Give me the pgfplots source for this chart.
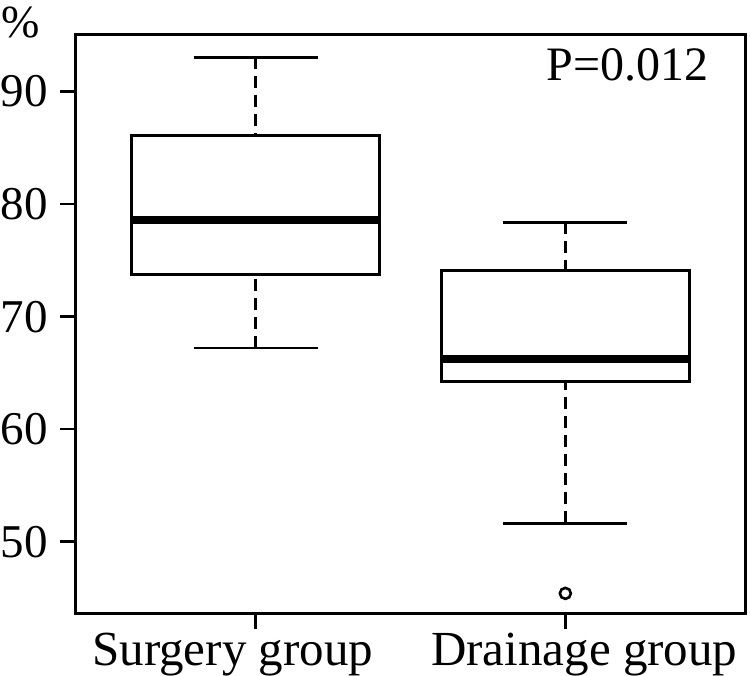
\documentclass[border=0pt]{standalone}
\usepackage{fontspec}
\setmainfont{Liberation Serif}
\usepackage{pgfplots}
\pgfplotsset{compat=1.18}
\usepgfplotslibrary{statistics}

\begin{document}
\begin{tikzpicture}
\begin{axis}[
  name=ax,
  scale only axis,
  width=669pt, height=578.3pt,
  xmin=0.42, xmax=2.58,
  ymin=43.63, ymax=95.03,
  clip=false,
  axis line style={line width=3pt},
  every tick/.style={line width=2.6pt, black},
  tick align=outside,
  tick pos=left,
  major tick length=16pt,
  xtick={1,2},
  xticklabels={},
  % group names sit a little off their tick marks
  extra x ticks={0.926,2.061},
  extra x tick labels={Surgery group, Drainage group},
  extra x tick style={major tick length=0pt,
    xticklabel style={inner sep=0pt, anchor=north, yshift=-20pt}},
  ytick={50,60,70,80,90},
  /pgf/number format/assume math mode=true,
  yticklabel style={font=\fontsize{47}{47}\selectfont,
    inner sep=0pt, anchor=east, xshift=-12pt},
  xticklabel style={font=\fontsize{49}{49}\selectfont},
  boxplot/draw direction=y,
  boxplot/box extend=0.8,
  boxplot/whisker extend=0.4,
  boxplot/every box/.style={draw=black, line width=3pt, fill=none},
  boxplot/every median/.style={line width=8pt},
  % dashed stem from the whisker end to the box, solid cap across it
  boxplot/draw/lower whisker/.code={%
    \draw[line width=2.6pt, dash pattern=on 12pt off 7pt]
      (boxplot box cs:\pgfplotsboxplotvalue{lower whisker},0.5) --
      (boxplot box cs:\pgfplotsboxplotvalue{lower quartile},0.5);
    \draw[line width=2.8pt, solid]
      (boxplot whisker cs:\pgfplotsboxplotvalue{lower whisker},0) --
      (boxplot whisker cs:\pgfplotsboxplotvalue{lower whisker},1);
  },
  boxplot/draw/upper whisker/.code={%
    \draw[line width=2.6pt, dash pattern=on 12pt off 7pt]
      (boxplot box cs:\pgfplotsboxplotvalue{upper whisker},0.5) --
      (boxplot box cs:\pgfplotsboxplotvalue{upper quartile},0.5);
    \draw[line width=2.8pt, solid]
      (boxplot whisker cs:\pgfplotsboxplotvalue{upper whisker},0) --
      (boxplot whisker cs:\pgfplotsboxplotvalue{upper whisker},1);
  },
]
% Surgery group
\addplot[black, line width=3pt, mark=o, mark size=5.5pt,
  mark options={solid, line width=2.6pt},
  boxplot prepared={
    draw position=1,
    lower whisker=67.21, lower quartile=73.70, median=78.59,
    upper quartile=86.14, upper whisker=93.05}]
  coordinates {};
% Drainage group, with one outlier
\addplot[black, line width=3pt, mark=o, mark size=5.5pt,
  mark options={solid, line width=2.6pt},
  boxplot prepared={
    draw position=2,
    lower whisker=51.63, lower quartile=64.21, median=66.23,
    upper quartile=74.08, upper whisker=78.38}]
  table[row sep=\\, y index=0] {45.40\\};

\node[anchor=base east, inner sep=0pt, font=\fontsize{48}{48}\selectfont]
  at (rel axis cs:0.946,0.922) {P=0.012};
\node[anchor=base west, inner sep=0pt, font=\fontsize{46}{46}\selectfont]
  at ([xshift=-75pt,yshift=-3pt]rel axis cs:0,1) {\%};
\end{axis}
\pgfresetboundingbox
\path[use as bounding box] ([xshift=-76pt,yshift=-62.7pt]ax.south west)
  rectangle ([xshift=5pt,yshift=35pt]ax.north east);
\end{tikzpicture}
\end{document}
